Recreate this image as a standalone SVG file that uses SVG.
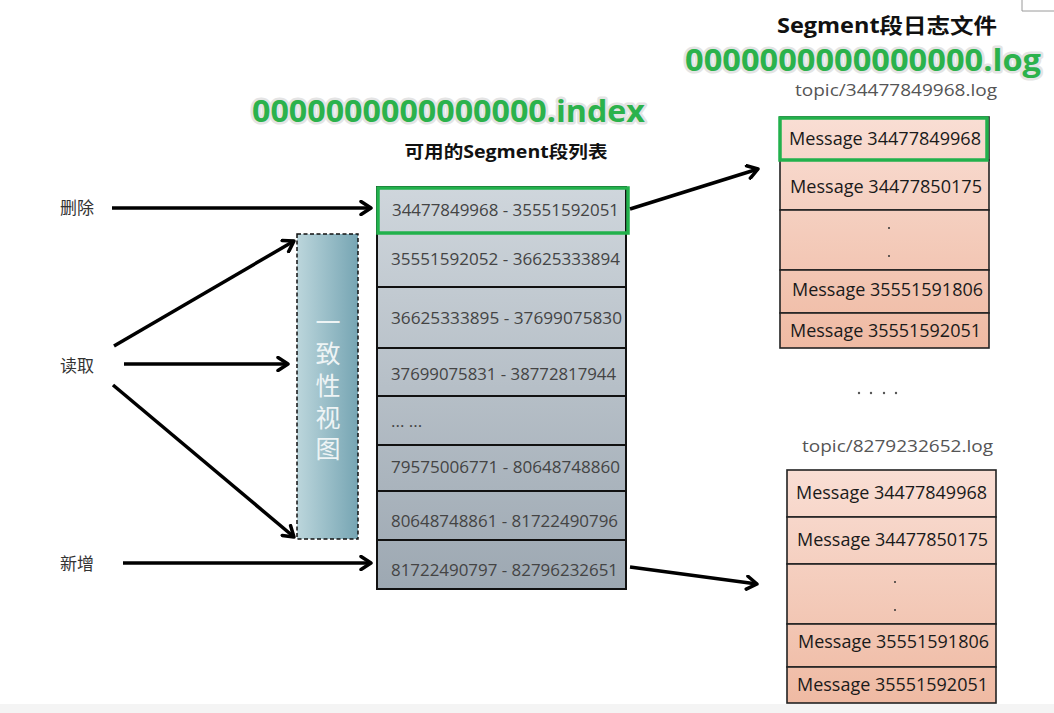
<svg xmlns="http://www.w3.org/2000/svg" width="1054" height="713" viewBox="0 0 1054 713">
<style>
.t{font-family:"Open Sans","Noto Sans CJK SC",sans-serif;}
.big{font-family:"Open Sans","Noto Sans CJK SC",sans-serif;font-weight:bold;font-size:30px;fill:#2bb24c;stroke:#e4e4e4;stroke-width:5px;stroke-linejoin:round;paint-order:stroke;}
.hdr{font-family:"Open Sans","Noto Sans CJK SC",sans-serif;font-weight:bold;fill:#111;}
.lbl{font-family:"Noto Sans CJK SC",sans-serif;font-size:17px;fill:#333;}
.rng{font-family:"Open Sans",sans-serif;font-size:17px;fill:#444;}
.msg{font-family:"Open Sans",sans-serif;font-size:18px;fill:#1a1a1a;}
.file{font-family:"Open Sans",sans-serif;font-size:17px;fill:#555;}
.row{stroke:#111;stroke-width:2;}
.lrow{stroke:#222;stroke-width:1.6;}
.hl{fill:none;stroke:#22b14c;stroke-width:3.5;}
.arr{stroke:#000;stroke-width:3.5;fill:none;marker-end:url(#ah);}
</style>
<defs>
<marker id="ah" viewBox="0 0 16 16" refX="13" refY="8" markerWidth="16" markerHeight="16" markerUnits="userSpaceOnUse" orient="auto">
<path d="M3,1.5 L13,8 L3,14.5" fill="none" stroke="#000" stroke-width="3.5" stroke-linecap="round" stroke-linejoin="round"/>
</marker>
<linearGradient id="gList" gradientUnits="userSpaceOnUse" x1="0" y1="187" x2="0" y2="589">
<stop offset="0" stop-color="#cfd6dc"/><stop offset="1" stop-color="#9da8b2"/>
</linearGradient>
<linearGradient id="gLog1" gradientUnits="userSpaceOnUse" x1="0" y1="117" x2="0" y2="348">
<stop offset="0" stop-color="#f9ded4"/><stop offset="1" stop-color="#efbaa3"/>
</linearGradient>
<linearGradient id="gLog2" gradientUnits="userSpaceOnUse" x1="0" y1="470" x2="0" y2="703">
<stop offset="0" stop-color="#f9ded4"/><stop offset="1" stop-color="#efbaa3"/>
</linearGradient>
<linearGradient id="gView" x1="0" y1="0" x2="1" y2="0">
<stop offset="0" stop-color="#bcd6dc"/><stop offset="1" stop-color="#76a5b3"/>
</linearGradient>
</defs>
<rect width="1054" height="713" fill="#fff"/>
<rect x="0" y="704" width="1054" height="9" fill="#f4f4f4"/>
<path d="M1022,0 V11 H1054" fill="none" stroke="#9a9a9a" stroke-width="1"/>

<g id="titles">
<text class="hdr" x="887" y="33" font-size="21" text-anchor="middle" textLength="220" lengthAdjust="spacingAndGlyphs">Segment段日志文件</text>
<text class="big" x="685" y="71" textLength="356" lengthAdjust="spacingAndGlyphs">0000000000000000.log</text>
<text class="big" x="252" y="122" textLength="393" lengthAdjust="spacingAndGlyphs">0000000000000000.index</text>
<text class="hdr" x="506" y="158" font-size="17" text-anchor="middle" textLength="203" lengthAdjust="spacingAndGlyphs">可用的Segment段列表</text>
</g>

<g id="labels">
<text class="lbl" x="60" y="214">删除</text>
<text class="lbl" x="60" y="372">读取</text>
<text class="lbl" x="60" y="570">新增</text>
</g>

<g id="segment-list">
<rect class="row" x="377" y="187" width="249" height="46" fill="url(#gList)"/>
<rect class="row" x="377" y="233" width="249" height="54" fill="url(#gList)"/>
<rect class="row" x="377" y="287" width="249" height="61" fill="url(#gList)"/>
<rect class="row" x="377" y="348" width="249" height="48" fill="url(#gList)"/>
<rect class="row" x="377" y="396" width="249" height="49" fill="url(#gList)"/>
<rect class="row" x="377" y="445" width="249" height="46" fill="url(#gList)"/>
<rect class="row" x="377" y="491" width="249" height="49" fill="url(#gList)"/>
<rect class="row" x="377" y="540" width="249" height="49" fill="url(#gList)"/>
<rect class="hl" x="378" y="188" width="250" height="45"/>
<text class="rng" x="392" y="216" textLength="227" lengthAdjust="spacingAndGlyphs">34477849968 - 35551592051</text>
<text class="rng" x="391" y="265" textLength="229" lengthAdjust="spacingAndGlyphs">35551592052 - 36625333894</text>
<text class="rng" x="391" y="324" textLength="231" lengthAdjust="spacingAndGlyphs">36625333895 - 37699075830</text>
<text class="rng" x="391" y="380" textLength="225" lengthAdjust="spacingAndGlyphs">37699075831 - 38772817944</text>
<text class="rng" x="391" y="427">... ...</text>
<text class="rng" x="391" y="473" textLength="229" lengthAdjust="spacingAndGlyphs">79575006771 - 80648748860</text>
<text class="rng" x="391" y="527" textLength="227" lengthAdjust="spacingAndGlyphs">80648748861 - 81722490796</text>
<text class="rng" x="391" y="576" textLength="227" lengthAdjust="spacingAndGlyphs">81722490797 - 82796232651</text>
</g>

<g id="consistent-view">
<rect x="297" y="234" width="61" height="305" fill="url(#gView)" stroke="#111" stroke-width="1.5" stroke-dasharray="4,2.5"/>
<g class="t" font-size="25" fill="#eef4f5" text-anchor="middle">
<text x="328" y="332">一</text>
<text x="328" y="363">致</text>
<text x="328" y="395">性</text>
<text x="328" y="427">视</text>
<text x="328" y="458">图</text>
</g>
</g>

<g id="log-file-1">
<text class="file" x="795" y="96" textLength="202" lengthAdjust="spacingAndGlyphs">topic/34477849968.log</text>
<rect class="lrow" x="780" y="117" width="209" height="43" fill="url(#gLog1)"/>
<rect class="lrow" x="780" y="160" width="209" height="50" fill="url(#gLog1)"/>
<rect class="lrow" x="780" y="210" width="209" height="60" fill="url(#gLog1)"/>
<rect class="lrow" x="780" y="270" width="209" height="43" fill="url(#gLog1)"/>
<rect class="lrow" x="780" y="313" width="209" height="35" fill="url(#gLog1)"/>
<rect class="hl" x="780" y="118" width="207" height="42"/>
<text class="msg" x="789" y="145" textLength="192" lengthAdjust="spacingAndGlyphs">Message 34477849968</text>
<text class="msg" x="790" y="193" textLength="192" lengthAdjust="spacingAndGlyphs">Message 34477850175</text>
<circle cx="889" cy="228" r="1" fill="#333"/>
<circle cx="889" cy="256" r="1" fill="#333"/>
<text class="msg" x="792" y="296" textLength="191" lengthAdjust="spacingAndGlyphs">Message 35551591806</text>
<text class="msg" x="790" y="337" textLength="191" lengthAdjust="spacingAndGlyphs">Message 35551592051</text>
</g>

<g id="ellipsis">
<circle cx="859" cy="393" r="1.2" fill="#555"/>
<circle cx="871" cy="393" r="1.2" fill="#555"/>
<circle cx="884" cy="393" r="1.2" fill="#555"/>
<circle cx="896" cy="393" r="1.2" fill="#555"/>
</g>

<g id="log-file-2">
<text class="file" x="802" y="452" textLength="191" lengthAdjust="spacingAndGlyphs">topic/8279232652.log</text>
<rect class="lrow" x="787" y="470" width="209" height="47" fill="url(#gLog2)"/>
<rect class="lrow" x="787" y="517" width="209" height="47" fill="url(#gLog2)"/>
<rect class="lrow" x="787" y="564" width="209" height="60" fill="url(#gLog2)"/>
<rect class="lrow" x="787" y="624" width="209" height="43" fill="url(#gLog2)"/>
<rect class="lrow" x="787" y="667" width="209" height="36" fill="url(#gLog2)"/>
<text class="msg" x="796" y="499" textLength="191" lengthAdjust="spacingAndGlyphs">Message 34477849968</text>
<text class="msg" x="797" y="546" textLength="191" lengthAdjust="spacingAndGlyphs">Message 34477850175</text>
<circle cx="895" cy="582" r="1" fill="#333"/>
<circle cx="895" cy="610" r="1" fill="#333"/>
<text class="msg" x="798" y="648" textLength="191" lengthAdjust="spacingAndGlyphs">Message 35551591806</text>
<text class="msg" x="797" y="691" textLength="191" lengthAdjust="spacingAndGlyphs">Message 35551592051</text>
</g>

<g id="connectors">
<line class="arr" x1="112" y1="208" x2="371" y2="208"/>
<line class="arr" x1="114" y1="346" x2="294" y2="241"/>
<line class="arr" x1="124" y1="364" x2="288" y2="364"/>
<line class="arr" x1="113" y1="385" x2="294" y2="537"/>
<line class="arr" x1="123" y1="563" x2="371" y2="563"/>
<line class="arr" x1="630" y1="209" x2="758" y2="169"/>
<line class="arr" x1="630" y1="567" x2="757" y2="584"/>
</g>
</svg>
